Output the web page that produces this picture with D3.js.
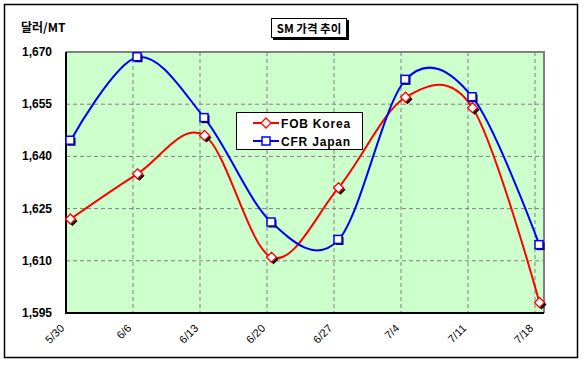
<!DOCTYPE html>
<html><head><meta charset="utf-8">
<script src="https://cdn.jsdelivr.net/npm/d3@7"></script>
<style>body{margin:0;background:#fff}svg{display:block}</style>
</head><body><svg id="c" width="584" height="367"></svg>
<script>
const categories = ["5/30","6/6","6/13","6/20","6/27","7/4","7/11","7/18"];
const fobKorea = [1622, 1635, 1646, 1611, 1631, 1657, 1654, 1598];
const cfrJapan = [1644.5, 1668.5, 1651, 1621, 1616, 1662, 1657, 1614.5];
const yTicks = [1595, 1610, 1625, 1640, 1655, 1670];
const seriesNames = ["FOB Korea", "CFR Japan"];
const titleText = "SM 가격 추이";
const unitText = "달러/MT";

const svg = d3.select("#c");
const font = "'Liberation Sans', Arial, sans-serif";
const L = 66, R = 544, T = 52, B = 313;
const xg = d3.scalePoint().domain(categories).range([66, 535]);
const off = 4.5;
const x = d => xg(d) + off;
const y = d3.scaleLinear().domain([1595, 1670]).range([B, T]);

// outer border
svg.append("rect").attr("x",4.5).attr("y",4.5).attr("width",573).attr("height",353)
  .attr("fill","#fff").attr("stroke","#000").attr("stroke-width",1.5);

// plot area
svg.append("rect").attr("x",L).attr("y",T).attr("width",R-L).attr("height",B-T).attr("fill","#ccffcc");

// gridlines
svg.append("g").selectAll("line").data(yTicks.slice(1,-1)).join("line")
  .attr("x1",L).attr("x2",R).attr("y1",d=>y(d)).attr("y2",d=>y(d))
  .attr("stroke","#808080").attr("stroke-dasharray","4,3");
svg.append("g").selectAll("line").data(categories.slice(1)).join("line")
  .attr("x1",d=>xg(d)).attr("x2",d=>xg(d)).attr("y1",T).attr("y2",B)
  .attr("stroke","#808080").attr("stroke-dasharray","4,3");

// borders
svg.append("path").attr("d",`M${L},${T}H${R}V${B}`).attr("fill","none").attr("stroke","#808080").attr("stroke-width",2);
svg.append("path").attr("d",`M${L},${T}V${B}H${R}`).attr("fill","none").attr("stroke","#000").attr("stroke-width",2);

// y axis labels
svg.append("g").selectAll("text").data(yTicks).join("text")
  .attr("x",52).attr("y",d=>y(d)+4).attr("text-anchor","end")
  .attr("font-family",font).attr("font-weight","bold").attr("font-size",12)
  .text(d=>d3.format(",")(d));

// x axis labels
svg.append("g").selectAll("text").data(categories).join("text")
  .attr("transform",d=>`translate(${xg(d)-1},${329}) rotate(-45)`)
  .attr("text-anchor","end")
  .attr("font-family",font).attr("font-size",11)
  .text(d=>d);

// unit
svg.append("text").attr("x",21).attr("y",32).attr("font-family","'Noto Sans CJK KR', sans-serif")
  .attr("font-weight","bold").attr("font-size",12).text(unitText);

// title box
svg.append("rect").attr("x",273).attr("y",20).attr("width",76).attr("height",20).attr("fill","#000");
svg.append("rect").attr("x",271.5).attr("y",18.5).attr("width",75).attr("height",19).attr("fill","#fff").attr("stroke","#000");
svg.append("text").attr("x",309).attr("y",32.5).attr("text-anchor","middle")
  .attr("font-family","'Noto Sans CJK KR', sans-serif").attr("font-weight","bold").attr("font-size",11.5)
  .text(titleText);

const line = d3.line().x((d,i)=>x(categories[i])).y(d=>y(d)).curve(d3.curveCardinal.tension(0));

const series = [
  {name: seriesNames[0], values: fobKorea, color: "#ff0000", shape: "diamond"},
  {name: seriesNames[1], values: cfrJapan, color: "#0000ff", shape: "square"}
];

function marker(g, cx, cy, s) {
  if (s.shape === "square") {
    g.append("rect").attr("x",cx-3).attr("y",cy-3).attr("width",8).attr("height",8).attr("fill","#000");
    g.append("rect").attr("x",cx-4.5).attr("y",cy-4.5).attr("width",8).attr("height",8)
      .attr("fill","#fff").attr("stroke",s.color).attr("stroke-width",1.5);
  } else {
    const dp = (ox,oy)=>`M${cx+ox},${cy-5+oy}L${cx+5+ox},${cy+oy}L${cx+ox},${cy+5+oy}L${cx-5+ox},${cy+oy}Z`;
    g.append("path").attr("d",dp(2,2)).attr("fill","#000");
    g.append("path").attr("d",dp(0,0)).attr("fill","#fff").attr("stroke",s.color).attr("stroke-width",1.3);
  }
}

series.forEach(s => {
  svg.append("path").datum(s.values).attr("d",line).attr("fill","none")
    .attr("stroke",s.color).attr("stroke-width",2);
});
series.forEach(s => {
  const g = svg.append("g");
  s.values.forEach((v,i)=>marker(g, x(categories[i]), y(v), s));
});

// legend
svg.append("rect").attr("x",236.5).attr("y",112.5).attr("width",126).attr("height",37)
  .attr("fill","#fff").attr("stroke","#000").attr("stroke-width",1);
series.forEach((s,i) => {
  const ly = 123 + i*18;
  const g = svg.append("g");
  g.append("line").attr("x1",253).attr("x2",279).attr("y1",ly).attr("y2",ly).attr("stroke",s.color).attr("stroke-width",2);
  if (s.shape === "square") {
    g.append("rect").attr("x",262).attr("y",ly-4).attr("width",8).attr("height",8).attr("fill","#fff").attr("stroke",s.color).attr("stroke-width",1.5);
  } else {
    g.append("path").attr("d",`M266,${ly-5}L271,${ly}L266,${ly+5}L261,${ly}Z`).attr("fill","#fff").attr("stroke",s.color).attr("stroke-width",1.3);
  }
  g.append("text").attr("x",281).attr("y",ly+4.5).attr("font-family",font).attr("font-weight","bold")
    .attr("font-size",12).attr("letter-spacing",0.8).text(s.name);
});
</script></body></html>
